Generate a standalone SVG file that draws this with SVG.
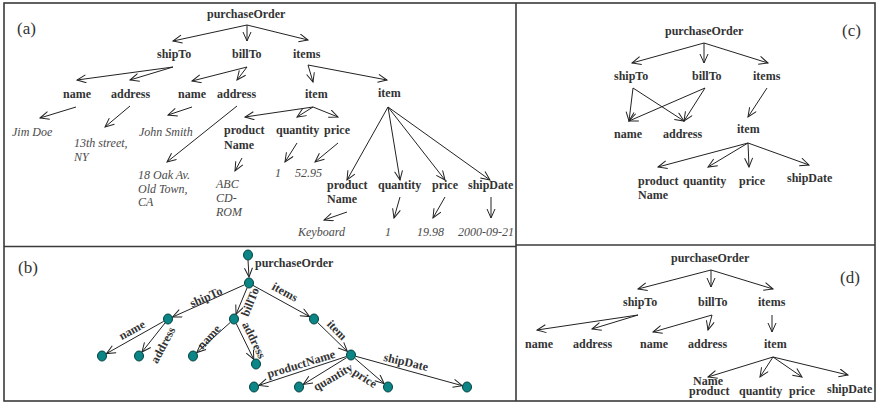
<svg xmlns="http://www.w3.org/2000/svg" width="877" height="404" viewBox="0 0 877 404">
  <defs>
    <marker id="arr" markerUnits="userSpaceOnUse" markerWidth="12" markerHeight="10" refX="10" refY="4.5" orient="auto">
      <path d="M1,0.5 L10,4.5 L1,8.5" fill="none" stroke="#222" stroke-width="1"/>
    </marker>
    <style>
      .frame { fill: none; stroke: #3a3a3a; stroke-width: 1.6; }
      .edge { fill: none; stroke: #222; stroke-width: 1; marker-end: url(#arr); }
      .lbl { font-family: "Liberation Serif", "Times New Roman", Times, serif; font-weight: bold; font-size: 12px; fill: #333; }
      .val { font-family: "Liberation Serif", "Times New Roman", Times, serif; font-style: italic; font-size: 12px; fill: #4a4a4a; }
      .tag { font-family: "Liberation Serif", "Times New Roman", Times, serif; font-size: 17px; fill: #333; }
      .dot { fill: #0b8585; stroke: #034040; stroke-width: 1; }
    </style>
  </defs>
  <rect width="877" height="404" fill="#fff"/>

  <!-- panel frames -->
  <g id="frames">
    <rect class="frame" x="4" y="3" width="871" height="398"/>
    <line class="frame" x1="516" y1="3" x2="516" y2="401"/>
    <line class="frame" x1="4" y1="246.5" x2="516" y2="246.5"/>
    <line class="frame" x1="516" y1="245" x2="875" y2="245"/>
  </g>

  <!-- ===== (a) instance tree ===== -->
  <g id="a-connectors">
    <line class="edge" x1="247" y1="25" x2="173" y2="41"/>
    <line class="edge" x1="247" y1="25" x2="247" y2="41"/>
    <line class="edge" x1="247" y1="25" x2="308" y2="40"/>
    <line class="edge" x1="173" y1="67" x2="77" y2="80"/>
    <line class="edge" x1="173" y1="67" x2="130" y2="80"/>
    <line class="edge" x1="247" y1="67" x2="192" y2="81"/>
    <line class="edge" x1="247" y1="67" x2="237" y2="80"/>
    <line class="edge" x1="308" y1="65" x2="313" y2="82"/>
    <line class="edge" x1="308" y1="65" x2="387" y2="80"/>
    <line class="edge" x1="76" y1="107" x2="40" y2="118"/>
    <line class="edge" x1="130" y1="106" x2="105" y2="127"/>
    <line class="edge" x1="192" y1="107" x2="168" y2="115"/>
    <line class="edge" x1="237" y1="106" x2="167" y2="162"/>
    <line class="edge" x1="313" y1="107" x2="245" y2="117"/>
    <line class="edge" x1="313" y1="107" x2="297" y2="117"/>
    <line class="edge" x1="313" y1="107" x2="338" y2="117"/>
    <line class="edge" x1="242" y1="158" x2="235" y2="171"/>
    <line class="edge" x1="297" y1="143" x2="285" y2="162"/>
    <line class="edge" x1="338" y1="143" x2="315" y2="162"/>
    <line class="edge" x1="388" y1="107" x2="347" y2="180"/>
    <line class="edge" x1="388" y1="107" x2="400" y2="180"/>
    <line class="edge" x1="388" y1="107" x2="445" y2="180"/>
    <line class="edge" x1="388" y1="107" x2="490" y2="180"/>
    <line class="edge" x1="347" y1="212" x2="324" y2="220"/>
    <line class="edge" x1="400" y1="197" x2="394" y2="218"/>
    <line class="edge" x1="445" y1="197" x2="433" y2="218"/>
    <line class="edge" x1="491" y1="197" x2="491" y2="218"/>
  </g>
  <g id="a-nodes">
    <text class="tag" x="17" y="34">(a)</text>
    <g id="a-purchaseOrder"><text class="lbl" x="207" y="18">purchaseOrder</text></g>
    <g id="a-shipTo"><text class="lbl" x="157" y="58">shipTo</text></g>
    <g id="a-billTo"><text class="lbl" x="232" y="58">billTo</text></g>
    <g id="a-items"><text class="lbl" x="293" y="58">items</text></g>
    <g id="a-name1"><text class="lbl" x="63" y="98">name</text></g>
    <g id="a-address1"><text class="lbl" x="111" y="98">address</text></g>
    <g id="a-name2"><text class="lbl" x="178" y="98">name</text></g>
    <g id="a-address2"><text class="lbl" x="217" y="98">address</text></g>
    <g id="a-item1"><text class="lbl" x="305" y="98">item</text></g>
    <g id="a-item2"><text class="lbl" x="378" y="97">item</text></g>
    <g id="a-jim"><text class="val" x="12" y="136">Jim Doe</text></g>
    <g id="a-street"><text class="val" x="74" y="147">13th street,</text><text class="val" x="74" y="161">NY</text></g>
    <g id="a-john"><text class="val" x="139" y="136">John Smith</text></g>
    <g id="a-oak"><text class="val" x="138" y="179">18 Oak Av.</text><text class="val" x="138" y="192.5">Old Town,</text><text class="val" x="138" y="206">CA</text></g>
    <g id="a-productName1"><text class="lbl" x="224" y="134">product</text><text class="lbl" x="224" y="149">Name</text></g>
    <g id="a-quantity1"><text class="lbl" x="276" y="134">quantity</text></g>
    <g id="a-price1"><text class="lbl" x="324" y="134">price</text></g>
    <g id="a-abc"><text class="val" x="216" y="188">ABC</text><text class="val" x="216" y="202">CD-</text><text class="val" x="216" y="216">ROM</text></g>
    <g id="a-qty1"><text class="val" x="275" y="177">1</text></g>
    <g id="a-price1v"><text class="val" x="295" y="177">52.95</text></g>
    <g id="a-productName2"><text class="lbl" x="327" y="189">product</text><text class="lbl" x="327" y="203">Name</text></g>
    <g id="a-quantity2"><text class="lbl" x="378" y="189">quantity</text></g>
    <g id="a-price2"><text class="lbl" x="432" y="189">price</text></g>
    <g id="a-shipDate"><text class="lbl" x="468" y="189">shipDate</text></g>
    <g id="a-keyboard"><text class="val" x="298" y="236">Keyboard</text></g>
    <g id="a-qty2"><text class="val" x="385" y="236">1</text></g>
    <g id="a-price2v"><text class="val" x="417" y="236">19.98</text></g>
    <g id="a-date"><text class="val" x="458" y="236">2000-09-21</text></g>
  </g>

  <!-- ===== (b) edge-labelled graph ===== -->
  <g id="b-connectors">
    <line class="edge" x1="248" y1="260" x2="249" y2="277"/>
    <line class="edge" x1="244" y1="285" x2="172.6" y2="317"/>
    <line class="edge" x1="247" y1="288" x2="236" y2="314.4"/>
    <line class="edge" x1="253" y1="285.4" x2="309.6" y2="316.6"/>
    <line class="edge" x1="317.6" y1="322.5" x2="347.4" y2="351.5"/>
    <line class="edge" x1="163.6" y1="321.4" x2="106.4" y2="353.6"/>
    <line class="edge" x1="165" y1="323" x2="142" y2="352"/>
    <line class="edge" x1="230.3" y1="322.4" x2="196.7" y2="352.6"/>
    <line class="edge" x1="236.2" y1="323.5" x2="253.8" y2="359.5"/>
    <line class="edge" x1="346.2" y1="356.6" x2="258.8" y2="385.4"/>
    <line class="edge" x1="346.7" y1="357.6" x2="303.3" y2="384.4"/>
    <line class="edge" x1="354.8" y1="358.3" x2="384.2" y2="383.7"/>
    <line class="edge" x1="355.8" y1="356.3" x2="462.2" y2="385.7"/>
    <text class="lbl" x="255" y="267">purchaseOrder</text>
    <text class="lbl" text-anchor="middle" transform="translate(206,297) rotate(-24)" y="4">shipTo</text>
    <text class="lbl" text-anchor="middle" transform="translate(250,302) rotate(-68)" y="4">billTo</text>
    <text class="lbl" text-anchor="middle" transform="translate(285,292) rotate(29)" y="4">items</text>
    <text class="lbl" text-anchor="middle" transform="translate(337,330) rotate(46)" y="4">item</text>
    <text class="lbl" text-anchor="middle" transform="translate(132,330) rotate(-29)" y="4">name</text>
    <text class="lbl" text-anchor="middle" transform="translate(163,345) rotate(-62)" y="4">address</text>
    <text class="lbl" text-anchor="middle" transform="translate(209,337) rotate(-48)" y="4">name</text>
    <text class="lbl" text-anchor="middle" transform="translate(254,340) rotate(64)" y="4">address</text>
    <text class="lbl" text-anchor="middle" transform="translate(301,364) rotate(-17)" y="4">productName</text>
    <text class="lbl" text-anchor="middle" transform="translate(333,377) rotate(-30)" y="4">quantity</text>
    <text class="lbl" text-anchor="middle" transform="translate(365,378) rotate(33)" y="4">price</text>
    <text class="lbl" text-anchor="middle" transform="translate(406,362) rotate(13)" y="4">shipDate</text>
  </g>
  <g id="b-nodes">
    <text class="tag" x="18" y="273">(b)</text>
    <g id="b-root"><ellipse class="dot" cx="248" cy="255" rx="4.5" ry="5"/></g>
    <g id="b-purchaseOrder"><ellipse class="dot" cx="249" cy="283" rx="4.5" ry="5"/></g>
    <g id="b-shipTo"><ellipse class="dot" cx="168" cy="319" rx="4.5" ry="5"/></g>
    <g id="b-billTo"><ellipse class="dot" cx="234" cy="319" rx="4.5" ry="5"/></g>
    <g id="b-items"><ellipse class="dot" cx="314" cy="319" rx="4.5" ry="5"/></g>
    <g id="b-item"><ellipse class="dot" cx="351" cy="355" rx="4.5" ry="5"/></g>
    <g id="b-name1"><ellipse class="dot" cx="102" cy="356" rx="4.5" ry="5"/></g>
    <g id="b-address1"><ellipse class="dot" cx="139" cy="356" rx="4.5" ry="5"/></g>
    <g id="b-name2"><ellipse class="dot" cx="193" cy="356" rx="4.5" ry="5"/></g>
    <g id="b-address2"><ellipse class="dot" cx="256" cy="364" rx="4.5" ry="5"/></g>
    <g id="b-productName"><ellipse class="dot" cx="254" cy="387" rx="4.5" ry="5"/></g>
    <g id="b-quantity"><ellipse class="dot" cx="299" cy="387" rx="4.5" ry="5"/></g>
    <g id="b-price"><ellipse class="dot" cx="388" cy="387" rx="4.5" ry="5"/></g>
    <g id="b-shipDate"><ellipse class="dot" cx="467" cy="387" rx="4.5" ry="5"/></g>
  </g>

  <!-- ===== (c) shared-node schema graph ===== -->
  <g id="c-connectors">
    <line class="edge" x1="704" y1="43" x2="632" y2="63"/>
    <line class="edge" x1="704" y1="43" x2="704" y2="63"/>
    <line class="edge" x1="704" y1="43" x2="768" y2="63"/>
    <line class="edge" x1="633" y1="88" x2="629" y2="121"/>
    <line class="edge" x1="633" y1="88" x2="684" y2="121"/>
    <line class="edge" x1="705" y1="88" x2="629" y2="121"/>
    <line class="edge" x1="705" y1="88" x2="684" y2="121"/>
    <line class="edge" x1="767" y1="88" x2="748" y2="117"/>
    <line class="edge" x1="748" y1="143" x2="658" y2="167"/>
    <line class="edge" x1="748" y1="143" x2="708" y2="167"/>
    <line class="edge" x1="748" y1="143" x2="749" y2="167"/>
    <line class="edge" x1="748" y1="143" x2="809" y2="165"/>
  </g>
  <g id="c-nodes">
    <text class="tag" x="842" y="36">(c)</text>
    <g id="c-purchaseOrder"><text class="lbl" x="665" y="35">purchaseOrder</text></g>
    <g id="c-shipTo"><text class="lbl" x="614" y="80">shipTo</text></g>
    <g id="c-billTo"><text class="lbl" x="692" y="80">billTo</text></g>
    <g id="c-items"><text class="lbl" x="753" y="80">items</text></g>
    <g id="c-name"><text class="lbl" x="614" y="138">name</text></g>
    <g id="c-address"><text class="lbl" x="663" y="138">address</text></g>
    <g id="c-item"><text class="lbl" x="737" y="133">item</text></g>
    <g id="c-productName"><text class="lbl" x="638" y="185">product</text><text class="lbl" x="638" y="199">Name</text></g>
    <g id="c-quantity"><text class="lbl" x="683" y="185">quantity</text></g>
    <g id="c-price"><text class="lbl" x="739" y="185">price</text></g>
    <g id="c-shipDate"><text class="lbl" x="787" y="182">shipDate</text></g>
  </g>

  <!-- ===== (d) schema tree ===== -->
  <g id="d-connectors">
    <line class="edge" x1="711" y1="270" x2="638" y2="289"/>
    <line class="edge" x1="711" y1="270" x2="711" y2="287"/>
    <line class="edge" x1="711" y1="270" x2="773" y2="289"/>
    <line class="edge" x1="638" y1="315" x2="537" y2="330"/>
    <line class="edge" x1="638" y1="315" x2="592" y2="329"/>
    <line class="edge" x1="712" y1="315" x2="653" y2="332"/>
    <line class="edge" x1="712" y1="315" x2="708" y2="330"/>
    <line class="edge" x1="772" y1="315" x2="772" y2="332"/>
    <line class="edge" x1="773" y1="357" x2="708" y2="377"/>
    <line class="edge" x1="773" y1="357" x2="760" y2="377"/>
    <line class="edge" x1="773" y1="357" x2="802" y2="377"/>
    <line class="edge" x1="773" y1="357" x2="848" y2="375"/>
  </g>
  <g id="d-nodes">
    <text class="tag" x="840" y="283">(d)</text>
    <g id="d-purchaseOrder"><text class="lbl" x="671" y="262">purchaseOrder</text></g>
    <g id="d-shipTo"><text class="lbl" x="623" y="306">shipTo</text></g>
    <g id="d-billTo"><text class="lbl" x="698" y="306">billTo</text></g>
    <g id="d-items"><text class="lbl" x="758" y="306">items</text></g>
    <g id="d-name1"><text class="lbl" x="525" y="348">name</text></g>
    <g id="d-address1"><text class="lbl" x="573" y="348">address</text></g>
    <g id="d-name2"><text class="lbl" x="640" y="348">name</text></g>
    <g id="d-address2"><text class="lbl" x="688" y="348">address</text></g>
    <g id="d-item"><text class="lbl" x="764" y="348">item</text></g>
    <g id="d-productName"><text class="lbl" x="693" y="385">Name</text><text class="lbl" x="689" y="395">product</text></g>
    <g id="d-quantity"><text class="lbl" x="739" y="395">quantity</text></g>
    <g id="d-price"><text class="lbl" x="789" y="395">price</text></g>
    <g id="d-shipDate"><text class="lbl" x="827" y="393">shipDate</text></g>
  </g>
</svg>
